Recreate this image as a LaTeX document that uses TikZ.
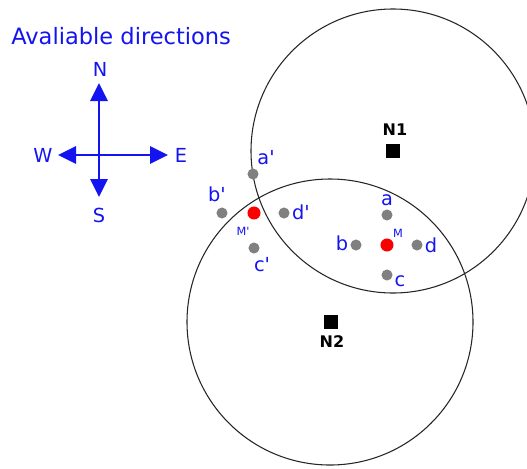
\documentclass[tikz,border=0pt]{standalone}
\usepackage{fontspec}
\setmainfont{DejaVu Sans}
\usetikzlibrary{arrows.meta}
\definecolor{dirblue}{RGB}{20,20,240}
\definecolor{dotgrey}{RGB}{128,128,128}
\definecolor{dotred}{RGB}{250,0,0}
\newcommand{\pr}{\textquotesingle}
\tikzset{
  lbl/.style={text=dirblue, font=\fontsize{14.5}{16}\selectfont, inner sep=0pt},
  mlbl/.style={text=dirblue, font=\fontsize{8.5}{10}\selectfont, inner sep=0pt},
  nlbl/.style={text=black, font=\fontsize{12}{14}\selectfont\bfseries, inner sep=0pt},
  gdot/.style={circle, fill=dotgrey, minimum size=8.3pt, inner sep=0pt},
  rdot/.style={circle, fill=dotred, minimum size=9.8pt, inner sep=0pt},
  nsq/.style={rectangle, fill=black, minimum size=10.5pt, inner sep=0pt},
  rangecircle/.style={draw=black!85, line width=0.8pt},
  dirarrow/.style={draw=dirblue, line width=1.5pt, -{Triangle[length=13.5pt,width=13pt]}}
}
\begin{document}
\begin{tikzpicture}[x=0.75pt,y=-0.75pt]
\useasboundingbox (0,0) rectangle (527,468);
\clip (0,0) rectangle (527,468);
% range circles
\draw[rangecircle] (393,151) circle (142);
\draw[rangecircle] (330,322) circle (143);
% title
\node[lbl, font=\fontsize{16.9}{19}\selectfont, anchor=west] (title) at (11,36) {Avaliable directions};
% compass
\coordinate (cc) at (99,155);
\coordinate (tn) at (99,83);
\coordinate (ts) at (99,197);
\coordinate (tw) at (58,155);
\coordinate (te) at (168,155);
\draw[dirarrow] (cc) -- (tn);
\draw[dirarrow] (cc) -- (ts);
\draw[dirarrow] (cc) -- (tw);
\draw[dirarrow] (cc) -- (te);
\node[lbl] (lN) at (100,69) {N};
\node[lbl] (lS) at (99,215) {S};
\node[lbl] (lW) at (43,155) {W};
\node[lbl] (lE) at (181,155) {E};
% nodes N1, N2
\node[nsq] (N1) at (393,151) {};
\node[nlbl] (N1l) at (395,130) {N1};
\node[nsq] (N2) at (331,322) {};
\node[nlbl] (N2l) at (332,342) {N2};
% M' group
\node[rdot] (Mp) at (254,213) {};
\node[mlbl] (Mpl) at (243,231) {M\pr};
\node[gdot] (ap) at (253,174) {};
\node[lbl] (apl) at (266,158) {a\pr};
\node[gdot] (bp) at (222,213) {};
\node[lbl] (bpl) at (217,194) {b\pr};
\node[gdot] (dp) at (284,213) {};
\node[lbl] (dpl) at (301,212) {d\pr};
\node[gdot] (cp) at (254,248) {};
\node[lbl] (cpl) at (262,265) {c\pr};
% M group
\node[rdot] (M) at (387,245) {};
\node[mlbl] (Ml) at (398,233) {M};
\node[gdot] (a) at (387,215) {};
\node[lbl] (al) at (387,200) {a};
\node[gdot] (b) at (356,245) {};
\node[lbl] (bl) at (342,243) {b};
\node[gdot] (d) at (417,245) {};
\node[lbl] (dl) at (431,245) {d};
\node[gdot] (c) at (387,275) {};
\node[lbl] (cl) at (400,281) {c};
\end{tikzpicture}
\end{document}
